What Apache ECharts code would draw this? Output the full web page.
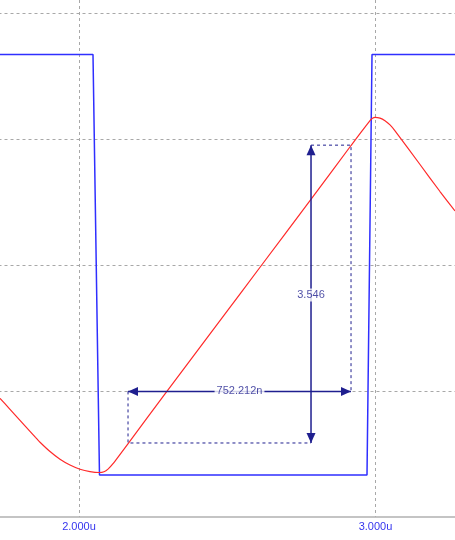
<!DOCTYPE html>
<html>
<head>
<meta charset="utf-8">
<script src="https://cdn.jsdelivr.net/npm/echarts@6/dist/echarts.min.js"></script>
<style>
html,body{margin:0;padding:0;background:#fff;}
#chart{width:455px;height:540px;}
</style>
</head>
<body>
<div id="chart"></div>
<script>
// ---- data (x in microseconds, y in volts) ----
var xTickLabels = {2: '2.000u', 3: '3.000u'};

var blueX = [1.70, 2.0472, 2.0691, 2.9713, 2.9882, 3.30];
var blueY = [5.506, 5.506, 0.50, 0.50, 5.506, 5.506];

var redX = [1.7336, 1.7673, 1.8010, 1.8347, 1.8533, 1.8685, 1.9022, 1.9359, 1.9696, 2.0034, 2.0371, 2.0685,
            2.0843, 2.0978, 2.1147, 2.1663, 2.2958, 2.4755, 2.6162, 2.7791, 2.9174, 2.9815, 2.9899, 2.9983,
            3.0152, 3.0320, 3.0489, 3.0658, 3.1501, 3.2175, 3.2681];
var redY = [1.4131, 1.2821, 1.1512, 1.0202, 0.9476, 0.8905, 0.7798, 0.6881, 0.6190, 0.5690, 0.5405, 0.5298,
            0.5393, 0.5702, 0.6345, 0.8774, 1.4929, 2.3381, 3.0000, 3.7667, 4.4226, 4.7190, 4.7464, 4.7583,
            4.7488, 4.7179, 4.6679, 4.5976, 4.1964, 3.8750, 3.6429];

// measurement cursors
var measX = [2.1653, 2.9174];      // horizontal measurement ends
var measVX = 2.7825;               // vertical measurement x
var measY = [0.881, 4.427];        // vertical measurement ends
var measHY = 1.495;                // horizontal measurement y
var measLabels = ['752.212n', '3.546'];
var labelVY = 2.643;

// ---- build ----
function zip(a, b) { return a.map(function (v, i) { return [v, b[i]]; }); }
var NAVY = '#1f1f8f';

var arrowData = [
  [measX[0], measHY, measX[1], measHY],
  [measVX, measY[1], measVX, measY[0]]
];
var dash1 = [[measVX, measY[1]], [measX[1], measY[1]], [measX[1], measHY]];
var dash2 = [[measX[0], measHY], [measX[0], measY[0]], [measVX, measY[0]]];
var labelData = [
  {value: [(measX[0] + measX[1]) / 2, measHY], name: measLabels[0]},
  {value: [measVX, labelVY], name: measLabels[1]}
];

var chart = echarts.init(document.getElementById('chart'), null, {renderer: 'canvas'});
chart.setOption({
  animation: false,
  backgroundColor: '#fff',
  grid: {left: -217.5, right: 0, top: 0, bottom: 23, containLabel: false, outerBoundsMode: 'none'},
  xAxis: {
    type: 'value', min: 1, max: 3.2681, interval: 1,
    axisLine: {show: true, lineStyle: {color: '#b0b0b0', width: 1.5}},
    axisTick: {show: false},
    axisLabel: {
      color: '#3535ee', fontSize: 11, fontFamily: 'Liberation Sans, Arial, sans-serif', margin: 4,
      showMaxLabel: false,
      formatter: function (v) {
        var r = Math.round(v);
        return (Math.abs(v - r) < 1e-6 && xTickLabels[r]) ? xTickLabels[r] : '';
      }
    },
    splitLine: {show: true, showMinLine: false, showMaxLine: false,
      lineStyle: {color: '#a8a8a8', type: [3, 3], width: 1}}
  },
  yAxis: {
    type: 'value', min: 0, max: 6.155, interval: 1.5,
    axisLine: {show: false}, axisTick: {show: false}, axisLabel: {show: false},
    splitLine: {show: true, showMinLine: false, showMaxLine: false,
      lineStyle: {color: '#a8a8a8', type: [3, 3], width: 1}}
  },
  series: [
    {
      type: 'line', data: zip(blueX, blueY), symbol: 'none', clip: true,
      lineStyle: {color: '#2f2fff', width: 1.5}, z: 3
    },
    {
      type: 'line', data: zip(redX, redY), symbol: 'none', smooth: 0.15, clip: true,
      lineStyle: {color: '#ff2a2a', width: 1.2}, z: 4
    },
    {
      type: 'line', data: dash1, symbol: 'none',
      lineStyle: {color: NAVY, width: 1, type: [3, 3]}, z: 5
    },
    {
      type: 'line', data: dash2, symbol: 'none',
      lineStyle: {color: NAVY, width: 1, type: [3, 3]}, z: 5
    },
    {
      type: 'custom', data: arrowData, encode: {x: [0, 2], y: [1, 3]}, clip: false, z: 6,
      renderItem: function (params, api) {
        var p1 = api.coord([api.value(0), api.value(1)]);
        var p2 = api.coord([api.value(2), api.value(3)]);
        var dx = p2[0] - p1[0], dy = p2[1] - p1[1], len = Math.sqrt(dx * dx + dy * dy);
        var ux = dx / len, uy = dy / len, nx = -uy, ny = ux;
        var L = 10, W = 4.5;
        function head(t, ddx, ddy) {
          return {type: 'polygon', shape: {points: [
            [t[0], t[1]],
            [t[0] + ddx * L + nx * W, t[1] + ddy * L + ny * W],
            [t[0] + ddx * L - nx * W, t[1] + ddy * L - ny * W]
          ]}, style: {fill: NAVY}};
        }
        return {type: 'group', children: [
          {type: 'line', shape: {x1: p1[0], y1: p1[1], x2: p2[0], y2: p2[1]},
            style: {stroke: NAVY, lineWidth: 1.5}},
          head(p1, ux, uy), head(p2, -ux, -uy)
        ]};
      }
    },
    {
      type: 'scatter', data: labelData, symbolSize: 0, z: 10,
      label: {
        show: true, position: 'inside', formatter: '{b}', color: NAVY,
        fontSize: 11, fontFamily: 'Liberation Sans, Arial, sans-serif',
        backgroundColor: '#fff', padding: [1, 2]
      }
    }
  ]
});
</script>
</body>
</html>
